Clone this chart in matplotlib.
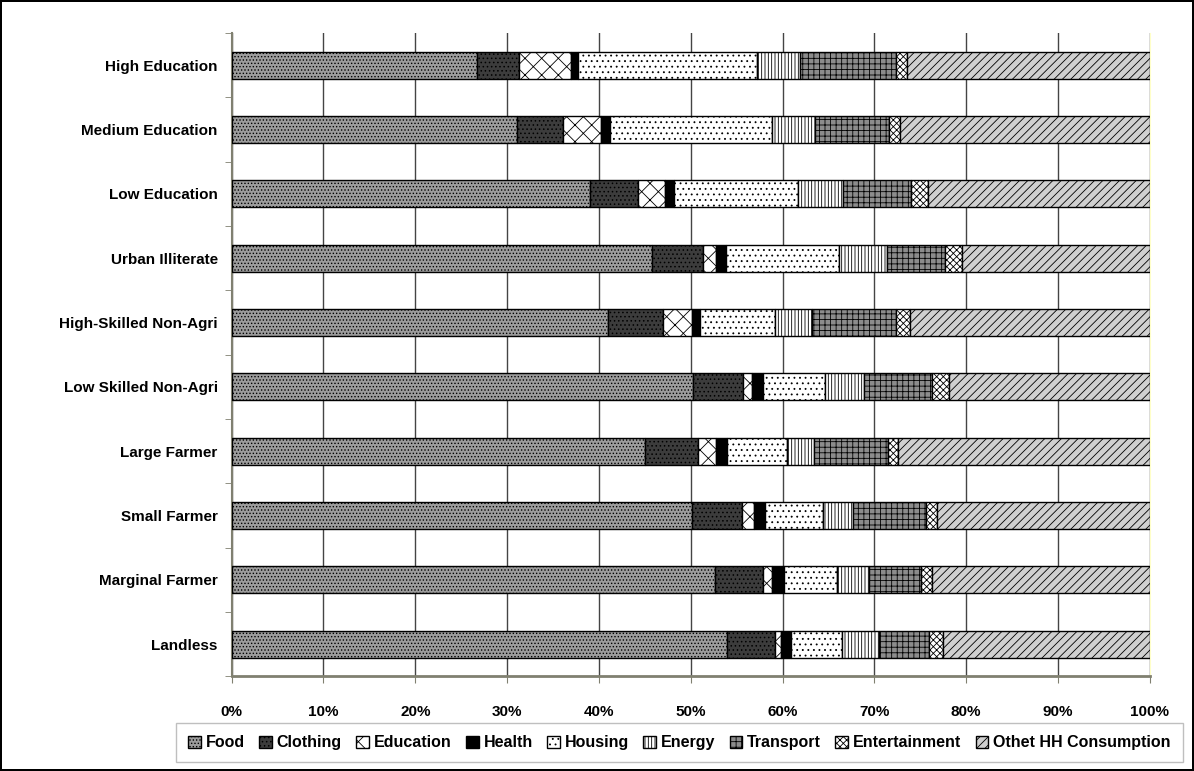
import matplotlib.pyplot as plt
import numpy as np

plt.rcParams['font.family'] = ['Liberation Sans', 'DejaVu Sans']
plt.rcParams['font.weight'] = 'bold'
plt.rcParams['hatch.linewidth'] = 0.6

# groups, top to bottom as shown
groups = ["High Education", "Medium Education", "Low Education", "Urban Illiterate",
          "High-Skilled Non-Agri", "Low Skilled Non-Agri", "Large Farmer",
          "Small Farmer", "Marginal Farmer", "Landless"]

# shares in % (same order as groups)
food          = [26.7, 31.1, 39.0, 45.8, 41.0, 50.2, 45.0, 50.1, 52.6, 53.9]
clothing      = [4.6, 5.0, 5.3, 5.5, 6.0, 5.5, 5.8, 5.5, 5.3, 5.3]
education     = [5.7, 4.1, 2.9, 1.5, 3.1, 1.0, 2.0, 1.3, 1.0, 0.6]
health        = [0.7, 1.0, 1.0, 1.0, 0.9, 1.2, 1.2, 1.2, 1.3, 1.1]
housing       = [19.5, 17.6, 13.5, 12.3, 8.2, 6.7, 6.5, 6.3, 5.7, 5.6]
energy        = [4.7, 4.7, 4.9, 5.3, 4.0, 4.3, 2.9, 3.3, 3.5, 4.0]
transport     = [10.5, 8.1, 7.4, 6.3, 9.2, 7.4, 8.1, 7.9, 5.7, 5.4]
entertainment = [1.1, 1.2, 1.8, 1.8, 1.5, 1.8, 1.1, 1.2, 1.2, 1.6]
other         = [26.5, 27.2, 24.2, 20.5, 26.1, 21.9, 27.4, 23.2, 23.7, 22.5]

series_names = ["Food", "Clothing", "Education", "Health", "Housing", "Energy",
                "Transport", "Entertainment", "Othet HH Consumption"]
series_vals = [food, clothing, education, health, housing, energy,
               transport, entertainment, other]

# (face, hatch) per series - grayscale Excel-like fills
styles = [("#9c9c9c", "....."),
          ("#3c3c3c", "...."),
          ("white", "xx"),
          ("black", ""),
          ("white", "..."),
          ("white", "|||||"),
          ("#8c8c8c", "+++"),
          ("white", "xxxxx"),
          ("#d0d0d0", "////")]

fig = plt.figure(figsize=(11.94, 7.71), dpi=100, linewidth=1.5, edgecolor="black")
ax = fig.add_axes([0.194, 0.123, 0.769, 0.834])

y = np.arange(len(groups))[::-1]
left = np.zeros(len(groups))
handles = []
for name, vals, (fc, h) in zip(series_names, series_vals, styles):
    v = np.array(vals)
    b = ax.barh(y, v, left=left, height=0.42, color=fc, hatch=h,
                edgecolor="black", linewidth=1.0, label=name, zorder=3)
    handles.append(b)
    left += v

ax.set_xlim(0, 100)
ax.set_ylim(-0.5, len(groups) - 0.5)
ax.set_xticks(np.arange(0, 101, 10))
ax.set_xticklabels([f"{t}%" for t in range(0, 101, 10)], fontsize=11, fontweight="bold")
ax.set_yticks(y)
ax.set_yticklabels(groups, fontsize=11, fontweight="bold")
ax.set_yticks(np.arange(-0.5, len(groups), 1), minor=True)
ax.tick_params(axis="y", which="major", length=0, pad=10)
ax.tick_params(axis="y", which="minor", length=5, color="#808070", direction="out")
ax.tick_params(axis="x", length=5, color="#808070", direction="out", pad=16)

ax.grid(axis="x", color="#444444", linewidth=1.0, zorder=0)
ax.spines["top"].set_visible(False)
ax.spines["right"].set_color("#ffffc8")
ax.spines["left"].set_color("#808070")
ax.spines["bottom"].set_color("#808070")
ax.spines["left"].set_linewidth(1.5)
ax.spines["bottom"].set_linewidth(2)

leg = fig.legend(handles=handles, labels=series_names, loc="upper center",
                 bbox_to_anchor=(0.569, 0.062), ncol=9, fontsize=11.5,
                 frameon=True, fancybox=False, edgecolor="#b0b0b0",
                 handlelength=0.8, handleheight=0.8, handletextpad=0.3,
                 columnspacing=0.9, borderpad=0.75, borderaxespad=0)
for t in leg.get_texts():
    t.set_fontweight("bold")

fig.savefig("out.png", dpi=100)
